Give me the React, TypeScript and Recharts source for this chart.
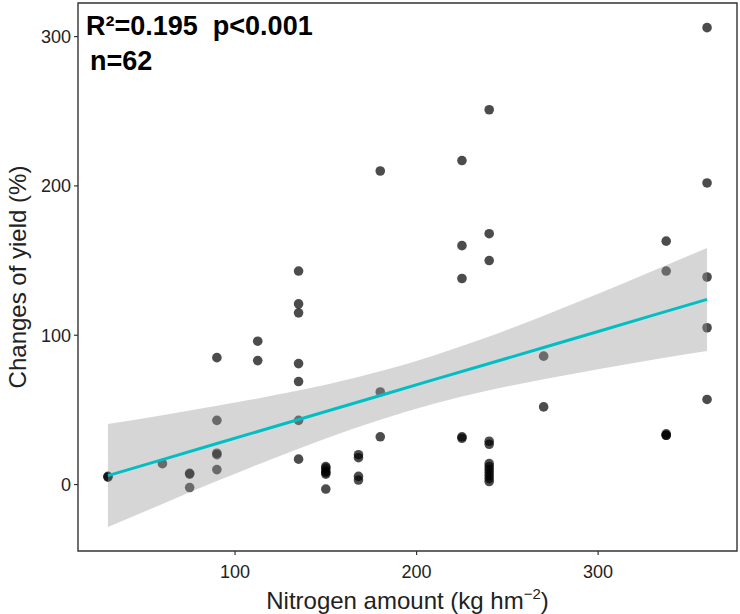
import {
  Area,
  ComposedChart,
  Customized,
  Label,
  Line,
  ReferenceArea,
  Scatter,
  XAxis,
  YAxis,
} from "recharts";

// observed points (nitrogen, change of yield)
const nitrogen = [
  30, 30, 60, 75, 75, 75, 90, 90, 90, 90, 90, 112.5, 112.5,
  135, 135, 135, 135, 135, 135, 135,
  150, 150, 150, 150, 150, 150,
  168, 168, 168, 168, 180, 180, 180,
  225, 225, 225, 225, 225,
  240, 240, 240, 240, 240, 240, 240, 240, 240, 240, 240, 240,
  270, 270, 337.5, 337.5, 337.5, 337.5, 337.5,
  360, 360, 360, 360, 360,
];
const yieldChange = [
  5, 5.5, 14, 7, 7.5, -2, 85, 43, 21, 20, 10, 96, 83,
  143, 121, 115, 81, 69, 43, 17,
  12, 11, 9, 8, 7, -3,
  20, 18, 5.5, 3, 210, 62, 32,
  217, 160, 138, 32, 31,
  251, 168, 150, 29, 27, 14, 12, 10, 8, 6, 4, 2,
  86, 52, 163, 143, 34, 33, 33,
  306, 202, 139, 105, 57,
];

// fitted line and 95% band
const fitX = [30, 60, 90, 120, 150, 180, 210, 240, 270, 300, 330, 360];
const fitY = [6, 16.7, 27.5, 38.2, 48.9, 59.6, 70.4, 81.1, 91.8, 102.5, 113.3, 124];
const bandLow = [-28.5, -13, 2.3, 17, 30.9, 43.4, 54.2, 63.1, 70.6, 77.3, 83.6, 89.5];
const bandHigh = [40.5, 46.4, 52.7, 59.4, 66.9, 75.8, 86.6, 99.1, 113, 127.7, 143, 158.5];

const xTicks = [100, 200, 300];
const yTicks = [0, 100, 200, 300];
const xDomain = [13.5, 376.5];
const yDomain = [-44.5, 322.5];

const points = nitrogen.map((x, i) => ({ x, y: yieldChange[i] }));
const fit = fitX.map((x, i) => ({
  x,
  fit: fitY[i],
  band: [bandLow[i], bandHigh[i]],
}));

const FONT = "'Liberation Sans', Arial, sans-serif";
const INK = "#222";

const Dot = (props: any) => (
  <circle cx={props.cx} cy={props.cy} r={4.8} fill="#000" fillOpacity={0.7} />
);

const XTitle = (props: any) => {
  const { x, y, width } = props.viewBox;
  return (
    <text
      x={x + width / 2}
      y={y + 58}
      textAnchor="middle"
      fontSize={24}
      fontFamily={FONT}
      fill={INK}
    >
      Nitrogen amount (kg hm
      <tspan dy={-10} fontSize={15}>
        −2
      </tspan>
      <tspan dy={10}>)</tspan>
    </text>
  );
};

const YTitle = (props: any) => {
  const { x, y, height } = props.viewBox;
  const cx = x + 26;
  const cy = y + height / 2;
  return (
    <text
      x={cx}
      y={cy}
      transform={`rotate(-90 ${cx} ${cy})`}
      textAnchor="middle"
      fontSize={24}
      fontFamily={FONT}
      fill={INK}
    >
      Changes of yield (%)
    </text>
  );
};

const Stats = () => (
  <g fontFamily={FONT} fontWeight="bold" fontSize={27} fill="#000">
    <text x={86} y={35}>
      R²=0.195{"\u00a0\u00a0"}p&lt;0.001
    </text>
    <text x={90} y={70}>
      n=62
    </text>
  </g>
);

export default function App() {
  return (
    <div style={{ position: "absolute", left: 0, top: 0, background: "#fff" }}>
      <ComposedChart
        width={740}
        height={614}
        margin={{ top: 3, right: 3, left: 0, bottom: 0 }}
      >
        <XAxis
          dataKey="x"
          type="number"
          domain={xDomain}
          ticks={xTicks}
          allowDataOverflow
          height={63}
          tickSize={4}
          tickMargin={10}
          axisLine={false}
          tickLine={{ stroke: "#333", strokeWidth: 1.2 }}
          tick={{ fontSize: 18, fontFamily: FONT, fill: INK }}
        >
          <Label content={XTitle} />
        </XAxis>
        <YAxis
          type="number"
          domain={yDomain}
          ticks={yTicks}
          allowDataOverflow
          width={78}
          tickSize={4}
          tickMargin={3}
          axisLine={false}
          tickLine={{ stroke: "#333", strokeWidth: 1.2 }}
          tick={{ fontSize: 18, fontFamily: FONT, fill: INK }}
        >
          <Label content={YTitle} />
        </YAxis>
        <Scatter
          data={points}
          dataKey="y"
          shape={Dot}
          zIndex={50}
          isAnimationActive={false}
        />
        <Area
          data={fit}
          dataKey="band"
          type="monotone"
          stroke="none"
          fill="#999999"
          fillOpacity={0.4}
          zIndex={100}
          isAnimationActive={false}
        />
        <Line
          data={fit}
          dataKey="fit"
          type="linear"
          stroke="#00BFC4"
          strokeWidth={3}
          dot={false}
          zIndex={400}
          isAnimationActive={false}
        />
        <ReferenceArea
          x1={xDomain[0]}
          x2={xDomain[1]}
          y1={yDomain[0]}
          y2={yDomain[1]}
          fill="none"
          stroke="#333"
          strokeWidth={1.4}
          ifOverflow="visible"
        />
        <Customized component={Stats} />
      </ComposedChart>
    </div>
  );
}
